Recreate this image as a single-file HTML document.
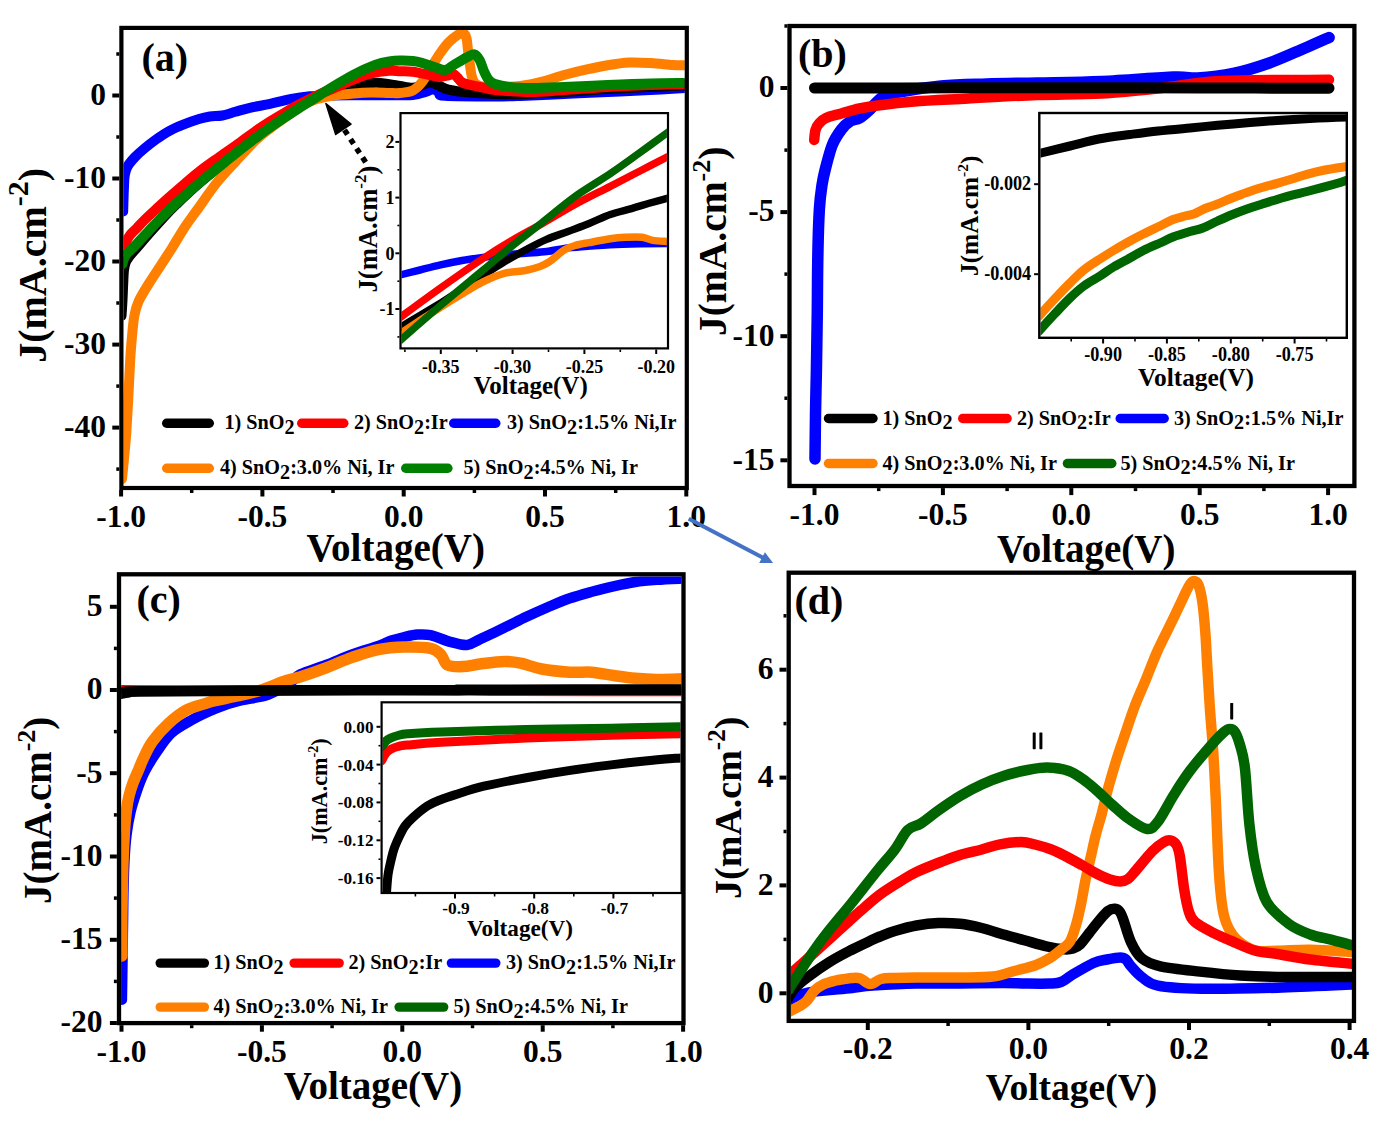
<!DOCTYPE html><html><head><meta charset="utf-8"><style>html,body{margin:0;padding:0;background:#fff;}svg{display:block;}</style></head><body>
<svg width="1379" height="1121" viewBox="0 0 1379 1121">
<rect width="1379" height="1121" fill="#fff"/>
<defs>
<clipPath id="ca"><rect x="123.5" y="30" width="561.3" height="456"/></clipPath>
<clipPath id="cai"><rect x="401.6" y="114.2" width="265.3" height="233.1"/></clipPath>
<clipPath id="cb"><rect x="791.6" y="28" width="560.8" height="455.8"/></clipPath>
<clipPath id="cbi"><rect x="1040.5" y="114.2" width="306.2" height="222.4"/></clipPath>
<clipPath id="cc"><rect x="121.1" y="576.4" width="560.4" height="444.7"/></clipPath>
<clipPath id="cci"><rect x="382.7" y="703.4" width="297.8" height="188.5"/></clipPath>
<clipPath id="cd"><rect x="790.8" y="574.8" width="561.2" height="444"/></clipPath>
</defs>
<path d="M123.2,211.5 C123.2,209.6 123.4,204.2 123.5,200.0 C123.6,195.8 123.8,190.2 124.0,186.0 C124.2,181.8 124.2,178.2 124.8,175.0 C125.4,171.8 125.9,169.4 127.5,166.5 C129.1,163.6 131.8,160.5 134.6,157.5 C137.4,154.5 140.8,151.5 144.4,148.5 C148.0,145.5 151.7,142.5 156.0,139.5 C160.3,136.5 165.2,133.2 170.0,130.6 C174.8,128.0 179.7,126.0 184.5,124.1 C189.3,122.2 194.8,120.3 199.0,119.0 C203.2,117.7 206.0,117.1 209.9,116.5 C213.8,115.9 218.0,116.3 222.2,115.5 C226.4,114.7 230.7,113.1 235.3,111.8 C239.9,110.5 244.0,109.1 249.8,107.8 C255.6,106.5 263.3,105.3 270.0,103.9 C276.7,102.5 283.3,100.5 290.0,99.2 C296.7,97.9 303.3,96.9 310.0,96.3 C316.7,95.7 323.3,95.7 330.0,95.5 C336.7,95.3 339.2,95.3 350.0,95.3 C360.8,95.2 384.5,95.2 395.0,95.2 C405.5,95.2 407.6,95.6 412.8,95.0 C418.0,94.4 422.8,92.8 426.2,91.8 C429.6,90.8 431.2,88.8 433.4,89.0 C435.6,89.2 437.7,92.0 439.6,93.1 C441.5,94.2 435.8,95.2 445.0,95.8 C454.2,96.4 482.4,96.5 495.0,96.5 C507.6,96.5 509.0,96.4 520.5,96.0 C532.0,95.6 549.5,94.7 564.0,94.0 C578.5,93.3 593.2,92.7 607.5,92.0 C621.8,91.3 636.9,90.7 650.0,90.0 C663.1,89.3 680.0,88.3 686.0,88.0" fill="none" stroke="#0000ff" stroke-width="10" stroke-linecap="round" stroke-linejoin="round" clip-path="url(#ca)"/>
<path d="M121.5,316.0 C121.7,313.3 122.2,305.7 122.5,300.0 C122.8,294.3 123.0,287.0 123.3,282.0 C123.5,277.0 123.6,273.2 124.0,270.0 C124.4,266.8 124.7,265.2 125.5,263.0 C126.3,260.8 127.1,259.5 129.0,257.0 C130.9,254.5 133.3,251.9 136.7,248.0 C140.1,244.1 145.0,238.2 149.2,233.5 C153.4,228.8 157.2,224.3 161.7,219.5 C166.2,214.7 169.8,210.7 176.2,204.5 C182.6,198.3 189.4,191.7 200.0,182.5 C210.6,173.3 228.3,158.8 240.0,149.5 C251.7,140.2 260.0,134.2 270.0,127.0 C280.0,119.8 292.2,111.4 300.0,106.5 C307.8,101.6 312.0,99.8 317.0,97.5 C322.0,95.2 325.4,93.9 330.0,92.5 C334.6,91.1 339.2,90.3 344.6,89.0 C350.0,87.7 357.2,85.6 362.4,84.6 C367.6,83.6 371.3,82.9 375.8,82.8 C380.3,82.7 385.2,83.7 389.2,84.2 C393.2,84.7 396.1,85.4 400.0,86.0 C403.9,86.6 409.2,88.0 412.8,87.8 C416.4,87.6 418.8,86.0 421.8,85.1 C424.8,84.2 427.7,82.2 430.7,82.4 C433.7,82.6 436.6,84.8 439.6,86.0 C442.6,87.2 444.0,88.5 448.5,89.6 C453.0,90.6 458.6,91.6 466.4,92.3 C474.1,93.0 486.0,93.7 495.0,94.0 C504.0,94.3 509.0,94.3 520.5,94.0 C532.0,93.7 549.5,92.8 564.0,92.0 C578.5,91.2 587.2,90.1 607.5,89.0 C627.8,87.9 672.9,86.1 686.0,85.5" fill="none" stroke="#000000" stroke-width="10" stroke-linecap="round" stroke-linejoin="round" clip-path="url(#ca)"/>
<path d="M122.0,479.0 C122.3,475.6 123.3,466.4 124.0,458.7 C124.7,451.0 125.5,443.7 126.3,432.9 C127.0,422.1 127.8,406.9 128.5,394.0 C129.2,381.1 129.8,365.9 130.5,355.2 C131.2,344.5 131.9,336.7 132.6,330.0 C133.3,323.3 133.5,319.8 134.5,315.0 C135.5,310.2 136.2,306.6 138.6,301.4 C141.0,296.1 145.2,289.4 148.9,283.5 C152.6,277.6 156.6,271.6 160.5,265.7 C164.4,259.8 168.1,254.2 172.1,247.8 C176.1,241.4 180.4,233.9 184.6,227.5 C188.8,221.1 192.0,217.0 197.4,209.5 C202.8,202.0 210.5,190.5 216.9,182.5 C223.3,174.5 229.3,168.4 235.7,161.5 C242.0,154.6 249.3,146.5 255.0,141.0 C260.7,135.5 264.2,133.0 270.0,128.5 C275.8,124.0 284.2,118.1 290.0,114.0 C295.8,109.9 300.5,106.5 305.0,104.0 C309.5,101.5 312.8,100.3 317.0,99.0 C321.2,97.7 323.9,96.9 330.0,96.0 C336.1,95.1 346.6,94.1 353.5,93.5 C360.4,92.9 365.4,92.6 371.4,92.5 C377.3,92.4 384.4,92.9 389.2,93.0 C394.0,93.1 396.1,93.4 400.0,93.0 C403.9,92.6 409.2,92.3 412.8,90.5 C416.4,88.7 418.8,86.1 421.8,82.4 C424.8,78.7 427.7,72.9 430.7,68.2 C433.7,63.5 436.6,58.3 439.6,54.0 C442.6,49.7 445.5,45.6 448.5,42.5 C451.5,39.4 455.0,36.8 457.4,35.2 C459.8,33.6 461.3,32.4 462.8,32.8 C464.3,33.2 465.5,34.7 466.4,37.8 C467.3,40.9 467.5,46.7 468.1,51.2 C468.7,55.7 469.3,60.5 469.9,64.6 C470.5,68.7 470.8,72.8 471.7,76.0 C472.6,79.2 473.2,81.7 475.3,83.5 C477.4,85.3 480.3,86.4 484.2,87.0 C488.1,87.6 492.8,87.2 498.8,87.0 C504.9,86.8 513.2,86.8 520.5,85.9 C527.8,85.0 535.0,83.4 542.3,81.6 C549.5,79.8 556.8,77.0 564.0,75.0 C571.2,73.0 578.5,71.2 585.8,69.6 C593.0,68.0 600.2,66.4 607.5,65.2 C614.8,64.0 622.0,62.9 629.3,62.5 C636.5,62.1 643.8,62.6 651.0,63.0 C658.2,63.4 667.0,64.6 672.8,65.0 C678.6,65.4 683.8,65.2 686.0,65.2" fill="none" stroke="#ff8000" stroke-width="10" stroke-linecap="round" stroke-linejoin="round" clip-path="url(#ca)"/>
<path d="M121.5,251.0 C121.9,250.0 123.1,246.8 124.0,245.0 C124.9,243.2 125.9,241.8 127.0,240.0 C128.1,238.2 128.8,236.5 130.5,234.5 C132.2,232.5 134.6,230.5 137.0,228.0 C139.4,225.5 141.4,223.0 145.0,219.5 C148.6,216.0 154.0,211.1 158.4,207.0 C162.8,202.9 167.3,198.9 171.7,195.0 C176.1,191.1 180.3,187.5 185.0,183.5 C189.7,179.5 194.3,175.4 200.0,171.0 C205.7,166.6 212.6,161.8 219.3,157.0 C226.0,152.2 234.1,146.8 240.0,142.5 C245.9,138.2 250.0,135.0 255.0,131.5 C260.0,128.0 265.0,124.7 270.0,121.5 C275.0,118.3 280.0,115.4 285.0,112.5 C290.0,109.6 294.2,107.1 300.0,104.0 C305.8,100.9 314.1,96.8 320.0,94.0 C325.9,91.2 330.1,89.9 335.7,87.5 C341.3,85.1 347.6,81.8 353.5,79.5 C359.4,77.2 365.4,75.0 371.4,73.5 C377.3,72.0 384.4,71.2 389.2,70.8 C394.0,70.4 396.1,71.0 400.0,71.2 C403.9,71.4 407.7,71.0 412.8,71.7 C417.9,72.4 426.2,74.4 430.7,75.3 C435.2,76.2 436.6,77.0 439.6,77.0 C442.6,77.0 446.3,75.8 448.5,75.3 C450.7,74.8 451.5,73.4 453.0,73.8 C454.5,74.2 455.9,76.1 457.4,77.5 C458.9,78.9 459.7,81.1 461.9,82.4 C464.1,83.7 467.1,84.2 470.8,85.1 C474.5,86.0 480.2,87.0 484.2,87.8 C488.2,88.6 487.1,89.3 495.0,90.0 C502.9,90.7 519.9,92.0 531.4,92.0 C542.9,92.0 551.3,90.8 564.0,90.0 C576.7,89.2 593.2,87.8 607.5,87.0 C621.8,86.2 636.9,85.5 650.0,85.0 C663.1,84.5 680.0,84.2 686.0,84.0" fill="none" stroke="#ff0000" stroke-width="10" stroke-linecap="round" stroke-linejoin="round" clip-path="url(#ca)"/>
<path d="M122.4,264.0 C122.7,263.0 123.3,259.9 124.2,258.0 C125.1,256.1 125.9,254.8 128.0,252.5 C130.1,250.2 133.2,247.7 136.7,244.0 C140.2,240.3 145.0,234.9 149.2,230.5 C153.4,226.1 157.2,222.0 161.7,217.5 C166.2,213.0 172.3,207.2 176.2,203.5 C180.1,199.8 181.0,199.0 185.0,195.5 C189.0,192.0 193.3,188.1 200.0,182.5 C206.7,176.9 218.3,167.4 225.0,162.0 C231.7,156.6 235.0,153.9 240.0,150.0 C245.0,146.1 250.0,142.2 255.0,138.5 C260.0,134.8 265.0,131.0 270.0,127.5 C275.0,124.0 280.0,120.6 285.0,117.3 C290.0,114.0 294.7,110.9 300.0,107.5 C305.3,104.1 312.0,100.2 317.0,97.0 C322.0,93.8 325.3,91.3 330.0,88.4 C334.7,85.5 340.0,82.3 345.0,79.5 C350.0,76.7 355.0,73.9 360.0,71.5 C365.0,69.1 370.1,66.7 375.0,65.0 C379.9,63.3 385.0,62.2 389.2,61.5 C393.4,60.8 396.1,60.6 400.0,60.5 C403.9,60.4 409.2,60.6 412.8,61.0 C416.4,61.4 418.1,61.8 421.8,62.8 C425.5,63.8 431.2,66.1 435.1,67.3 C439.0,68.5 442.0,70.3 445.0,70.0 C448.0,69.7 449.4,67.6 453.0,65.5 C456.6,63.4 462.8,59.4 466.4,57.5 C470.0,55.6 472.2,53.9 474.4,54.3 C476.6,54.7 478.1,57.2 479.7,60.1 C481.3,63.0 482.7,68.4 484.2,71.7 C485.7,75.0 486.9,77.8 488.7,79.8 C490.5,81.8 491.5,82.8 495.0,84.0 C498.5,85.2 503.5,86.3 509.6,87.0 C515.7,87.7 522.3,88.0 531.4,88.0 C540.5,88.0 551.3,87.5 564.0,87.0 C576.7,86.5 593.0,85.6 607.5,85.0 C622.0,84.4 637.9,83.8 651.0,83.5 C664.1,83.2 680.2,83.1 686.0,83.0" fill="none" stroke="#008000" stroke-width="10" stroke-linecap="round" stroke-linejoin="round" clip-path="url(#ca)"/>
<rect x="400.5" y="113.1" width="267.5" height="235.3" fill="#fff"/>
<path d="M398.0,275.5 C401.7,274.6 412.9,271.8 420.0,270.0 C427.1,268.2 433.5,266.5 440.5,264.9 C447.5,263.3 454.9,261.8 462.0,260.5 C469.1,259.2 476.0,258.3 483.0,257.4 C490.0,256.5 496.9,255.7 504.0,255.0 C511.1,254.3 518.3,253.8 525.4,253.2 C532.5,252.6 539.5,252.4 546.6,251.5 C553.7,250.6 560.7,248.8 567.9,247.9 C575.1,247.0 582.9,246.5 590.0,246.0 C597.1,245.5 602.0,245.1 610.3,244.7 C618.6,244.3 630.4,244.0 640.0,243.8 C649.6,243.6 663.3,243.6 668.0,243.6" fill="none" stroke="#0000ff" stroke-width="7.5" stroke-linecap="round" stroke-linejoin="round" clip-path="url(#cai)"/>
<path d="M398.0,328.6 C401.7,326.4 412.9,319.8 420.0,315.5 C427.1,311.2 433.5,307.4 440.5,303.1 C447.5,298.8 454.9,294.1 462.0,289.5 C469.1,284.9 476.0,280.1 483.0,275.5 C490.0,270.9 496.9,266.2 504.0,262.0 C511.1,257.8 518.3,253.8 525.4,250.0 C532.5,246.2 539.5,242.5 546.6,239.4 C553.7,236.3 560.9,234.2 568.0,231.5 C575.1,228.8 582.1,226.3 589.1,223.5 C596.1,220.7 603.2,217.0 610.3,214.5 C617.4,212.0 624.9,210.5 631.5,208.6 C638.1,206.7 643.9,204.8 650.0,203.0 C656.1,201.2 665.0,198.8 668.0,198.0" fill="none" stroke="#000000" stroke-width="7.5" stroke-linecap="round" stroke-linejoin="round" clip-path="url(#cai)"/>
<path d="M398.0,334.9 C401.7,332.5 412.9,325.1 420.0,320.5 C427.1,315.9 433.5,311.7 440.5,307.3 C447.5,302.9 454.9,298.2 462.0,294.0 C469.1,289.8 476.0,285.3 483.0,281.9 C490.0,278.5 497.1,275.3 504.2,273.4 C511.3,271.5 519.4,271.6 525.4,270.5 C531.4,269.4 536.1,267.9 540.0,266.5 C543.9,265.1 546.1,263.8 549.0,262.0 C551.9,260.2 554.5,257.6 557.2,255.5 C559.9,253.4 562.0,251.2 565.0,249.5 C568.0,247.8 571.0,246.7 575.0,245.5 C579.0,244.3 583.2,243.7 589.1,242.6 C595.0,241.5 604.3,239.7 610.3,238.8 C616.3,237.9 619.7,237.6 625.0,237.3 C630.3,237.1 637.6,236.8 642.2,237.3 C646.8,237.8 648.5,239.7 652.8,240.4 C657.1,241.1 665.5,241.3 668.0,241.5" fill="none" stroke="#ff8000" stroke-width="7.5" stroke-linecap="round" stroke-linejoin="round" clip-path="url(#cai)"/>
<path d="M398.0,319.0 C405.1,313.8 426.3,298.1 440.5,288.0 C454.7,277.9 471.1,266.4 483.0,258.5 C494.9,250.6 502.1,246.3 512.0,240.5 C521.9,234.7 531.9,229.5 542.4,223.5 C552.9,217.5 563.7,210.7 575.0,204.5 C586.3,198.3 599.5,191.9 610.3,186.3 C621.1,180.7 630.4,175.9 640.0,171.0 C649.6,166.1 663.3,159.0 668.0,156.6" fill="none" stroke="#ff0000" stroke-width="7.5" stroke-linecap="round" stroke-linejoin="round" clip-path="url(#cai)"/>
<path d="M398.0,342.4 C405.1,336.2 426.3,317.5 440.5,305.5 C454.7,293.5 471.1,280.1 483.0,270.2 C494.9,260.3 502.1,254.0 512.0,246.0 C521.9,238.0 531.9,230.7 542.4,222.4 C552.9,214.2 563.7,204.6 575.0,196.5 C586.3,188.4 599.5,180.9 610.3,173.6 C621.1,166.3 630.4,159.4 640.0,152.5 C649.6,145.6 663.3,135.6 668.0,132.2" fill="none" stroke="#006400" stroke-width="7.5" stroke-linecap="round" stroke-linejoin="round" clip-path="url(#cai)"/>
<rect x="400.5" y="113.1" width="267.5" height="235.29999999999998" fill="none" stroke="#000" stroke-width="2.2"/>
<line x1="395.4" y1="141.9" x2="399.4" y2="141.9" stroke="#000" stroke-width="2"/>
<line x1="395.4" y1="197.6" x2="399.4" y2="197.6" stroke="#000" stroke-width="2"/>
<line x1="395.4" y1="253.3" x2="399.4" y2="253.3" stroke="#000" stroke-width="2"/>
<line x1="395.4" y1="309.0" x2="399.4" y2="309.0" stroke="#000" stroke-width="2"/>
<line x1="397.4" y1="169.8" x2="399.4" y2="169.8" stroke="#000" stroke-width="1.6"/>
<line x1="397.4" y1="225.5" x2="399.4" y2="225.5" stroke="#000" stroke-width="1.6"/>
<line x1="397.4" y1="281.2" x2="399.4" y2="281.2" stroke="#000" stroke-width="1.6"/>
<line x1="397.4" y1="336.9" x2="399.4" y2="336.9" stroke="#000" stroke-width="1.6"/>
<line x1="440.8" y1="349.5" x2="440.8" y2="354.0" stroke="#000" stroke-width="2"/>
<line x1="512.6" y1="349.5" x2="512.6" y2="354.0" stroke="#000" stroke-width="2"/>
<line x1="584.4" y1="349.5" x2="584.4" y2="354.0" stroke="#000" stroke-width="2"/>
<line x1="656.2" y1="349.5" x2="656.2" y2="354.0" stroke="#000" stroke-width="2"/>
<line x1="404.9" y1="349.5" x2="404.9" y2="352.0" stroke="#000" stroke-width="1.6"/>
<line x1="476.7" y1="349.5" x2="476.7" y2="352.0" stroke="#000" stroke-width="1.6"/>
<line x1="548.5" y1="349.5" x2="548.5" y2="352.0" stroke="#000" stroke-width="1.6"/>
<line x1="620.3" y1="349.5" x2="620.3" y2="352.0" stroke="#000" stroke-width="1.6"/>
<text x="394.5" y="148.1" font-family='"Liberation Serif", serif' font-size="18" font-weight="bold" text-anchor="end">2</text>
<text x="394.5" y="203.8" font-family='"Liberation Serif", serif' font-size="18" font-weight="bold" text-anchor="end">1</text>
<text x="394.5" y="259.5" font-family='"Liberation Serif", serif' font-size="18" font-weight="bold" text-anchor="end">0</text>
<text x="394.5" y="315.2" font-family='"Liberation Serif", serif' font-size="18" font-weight="bold" text-anchor="end">-1</text>
<text x="440.8" y="372.5" font-family='"Liberation Serif", serif' font-size="18" font-weight="bold" text-anchor="middle">-0.35</text>
<text x="512.6" y="372.5" font-family='"Liberation Serif", serif' font-size="18" font-weight="bold" text-anchor="middle">-0.30</text>
<text x="584.4" y="372.5" font-family='"Liberation Serif", serif' font-size="18" font-weight="bold" text-anchor="middle">-0.25</text>
<text x="656.2" y="372.5" font-family='"Liberation Serif", serif' font-size="18" font-weight="bold" text-anchor="middle">-0.20</text>
<text x="530.6" y="394" font-family='"Liberation Serif", serif' font-size="25" font-weight="bold" text-anchor="middle">Voltage(V)</text>
<text transform="translate(376.7,229) rotate(-90)" font-family='"Liberation Serif", serif' font-size="26.5" font-weight="bold" text-anchor="middle">J(mA.cm<tspan font-size="17.0" dy="-10.4">-2</tspan><tspan dy="10.4">)</tspan></text>
<polygon points="325.9,103.6 335.7,134.5 351,124.2" fill="#000" stroke="#000" stroke-width="1.5" stroke-linejoin="round"/>
<line x1="344.5" y1="130" x2="367.5" y2="165" stroke="#000" stroke-width="5.5" stroke-dasharray="5.5,5.5"/>
<rect x="121.4" y="27.9" width="565.4" height="460.1" fill="none" stroke="#000" stroke-width="4.2"/>
<line x1="112.3" y1="95.5" x2="119.3" y2="95.5" stroke="#000" stroke-width="4"/>
<line x1="112.3" y1="178.5" x2="119.3" y2="178.5" stroke="#000" stroke-width="4"/>
<line x1="112.3" y1="261.5" x2="119.3" y2="261.5" stroke="#000" stroke-width="4"/>
<line x1="112.3" y1="344.6" x2="119.3" y2="344.6" stroke="#000" stroke-width="4"/>
<line x1="112.3" y1="427.6" x2="119.3" y2="427.6" stroke="#000" stroke-width="4"/>
<line x1="116.3" y1="54.0" x2="119.3" y2="54.0" stroke="#000" stroke-width="3.5"/>
<line x1="116.3" y1="137.0" x2="119.3" y2="137.0" stroke="#000" stroke-width="3.5"/>
<line x1="116.3" y1="220.0" x2="119.3" y2="220.0" stroke="#000" stroke-width="3.5"/>
<line x1="116.3" y1="303.0" x2="119.3" y2="303.0" stroke="#000" stroke-width="3.5"/>
<line x1="116.3" y1="386.1" x2="119.3" y2="386.1" stroke="#000" stroke-width="3.5"/>
<line x1="116.3" y1="469.1" x2="119.3" y2="469.1" stroke="#000" stroke-width="3.5"/>
<line x1="121.1" y1="490" x2="121.1" y2="496.5" stroke="#000" stroke-width="4"/>
<line x1="262.4" y1="490" x2="262.4" y2="496.5" stroke="#000" stroke-width="4"/>
<line x1="403.7" y1="490" x2="403.7" y2="496.5" stroke="#000" stroke-width="4"/>
<line x1="545.0" y1="490" x2="545.0" y2="496.5" stroke="#000" stroke-width="4"/>
<line x1="686.3" y1="490" x2="686.3" y2="496.5" stroke="#000" stroke-width="4"/>
<line x1="191.7" y1="490" x2="191.7" y2="493" stroke="#000" stroke-width="3.5"/>
<line x1="333.0" y1="490" x2="333.0" y2="493" stroke="#000" stroke-width="3.5"/>
<line x1="474.4" y1="490" x2="474.4" y2="493" stroke="#000" stroke-width="3.5"/>
<line x1="615.7" y1="490" x2="615.7" y2="493" stroke="#000" stroke-width="3.5"/>
<text x="106" y="104.8" font-family='"Liberation Serif", serif' font-size="31.5" font-weight="bold" text-anchor="end">0</text>
<text x="106" y="187.8" font-family='"Liberation Serif", serif' font-size="31.5" font-weight="bold" text-anchor="end">-10</text>
<text x="106" y="270.8" font-family='"Liberation Serif", serif' font-size="31.5" font-weight="bold" text-anchor="end">-20</text>
<text x="106" y="353.9" font-family='"Liberation Serif", serif' font-size="31.5" font-weight="bold" text-anchor="end">-30</text>
<text x="106" y="436.9" font-family='"Liberation Serif", serif' font-size="31.5" font-weight="bold" text-anchor="end">-40</text>
<text x="121.1" y="526.8" font-family='"Liberation Serif", serif' font-size="31.5" font-weight="bold" text-anchor="middle">-1.0</text>
<text x="262.4" y="526.8" font-family='"Liberation Serif", serif' font-size="31.5" font-weight="bold" text-anchor="middle">-0.5</text>
<text x="403.7" y="526.8" font-family='"Liberation Serif", serif' font-size="31.5" font-weight="bold" text-anchor="middle">0.0</text>
<text x="545.0" y="526.8" font-family='"Liberation Serif", serif' font-size="31.5" font-weight="bold" text-anchor="middle">0.5</text>
<text x="686.3" y="526.8" font-family='"Liberation Serif", serif' font-size="31.5" font-weight="bold" text-anchor="middle">1.0</text>
<text x="395.7" y="561.4" font-family='"Liberation Serif", serif' font-size="39" font-weight="bold" text-anchor="middle">Voltage(V)</text>
<text transform="translate(45.5,265.3) rotate(-90)" font-family='"Liberation Serif", serif' font-size="40" font-weight="bold" text-anchor="middle">J(mA.cm<tspan font-size="30.0" dy="-18.0">-2</tspan><tspan dy="18.0">)</tspan></text>
<text x="141.5" y="71.3" font-family='"Liberation Serif", serif' font-size="40" font-weight="bold" text-anchor="start">(a)</text>
<line x1="166.7" y1="423.3" x2="209.3" y2="423.3" stroke="#000000" stroke-width="9.4" stroke-linecap="round"/>
<line x1="301.7" y1="423.3" x2="343.8" y2="423.3" stroke="#ff0000" stroke-width="9.4" stroke-linecap="round"/>
<line x1="453.7" y1="423.3" x2="495.8" y2="423.3" stroke="#0000ff" stroke-width="9.4" stroke-linecap="round"/>
<line x1="166.7" y1="468.2" x2="209.3" y2="468.2" stroke="#ff8000" stroke-width="9.4" stroke-linecap="round"/>
<line x1="405.7" y1="468.2" x2="447.90000000000003" y2="468.2" stroke="#008000" stroke-width="9.4" stroke-linecap="round"/>
<text x="224.5" y="429.4" font-family='"Liberation Serif", serif' font-size="20.2" font-weight="bold">1) SnO<tspan dy="4.8">2</tspan><tspan dy="-4.8"></tspan></text>
<text x="354" y="429.4" font-family='"Liberation Serif", serif' font-size="20.2" font-weight="bold">2) SnO<tspan dy="4.8">2</tspan><tspan dy="-4.8">:Ir</tspan></text>
<text x="507" y="429.4" font-family='"Liberation Serif", serif' font-size="20.2" font-weight="bold">3) SnO<tspan dy="4.8">2</tspan><tspan dy="-4.8">:1.5% Ni,Ir</tspan></text>
<text x="220" y="474.4" font-family='"Liberation Serif", serif' font-size="20.2" font-weight="bold">4) SnO<tspan dy="4.8">2</tspan><tspan dy="-4.8">:3.0% Ni, Ir</tspan></text>
<text x="463.5" y="474.4" font-family='"Liberation Serif", serif' font-size="20.2" font-weight="bold">5) SnO<tspan dy="4.8">2</tspan><tspan dy="-4.8">:4.5% Ni, Ir</tspan></text>
<path d="M815.0,459.0 C815.1,451.6 815.3,429.4 815.5,414.7 C815.7,400.0 816.1,387.8 816.4,370.6 C816.7,353.5 817.0,331.4 817.3,311.8 C817.5,292.2 817.5,270.2 817.9,253.0 C818.2,235.8 818.7,220.1 819.4,208.8 C820.1,197.5 821.0,191.5 822.0,185.0 C823.0,178.5 823.4,176.7 825.1,170.0 C826.8,163.3 829.6,151.8 832.3,145.0 C835.0,138.2 838.4,133.5 841.4,129.5 C844.4,125.5 847.5,122.9 850.5,121.0 C853.5,119.1 856.5,119.7 859.5,118.0 C862.5,116.3 865.0,114.1 868.6,110.8 C872.2,107.5 876.8,101.1 881.3,98.1 C885.8,95.0 885.8,94.5 895.8,92.5 C905.8,90.5 926.0,87.4 941.1,86.0 C956.2,84.6 970.4,84.5 986.4,84.0 C1002.4,83.5 1017.8,83.4 1037.0,83.0 C1056.2,82.6 1079.0,82.5 1101.8,81.5 C1124.6,80.5 1157.6,77.6 1173.6,77.0 C1189.5,76.4 1187.5,78.6 1197.5,78.0 C1207.5,77.4 1221.4,76.0 1233.4,73.5 C1245.4,71.0 1257.3,67.2 1269.3,63.0 C1281.3,58.8 1295.2,52.2 1305.2,48.0 C1315.2,43.8 1325.1,39.2 1329.1,37.5" fill="none" stroke="#0000ff" stroke-width="11.5" stroke-linecap="round" stroke-linejoin="round" clip-path="url(#cb)"/>
<path d="M814.2,140.0 C814.4,138.3 814.7,132.8 815.5,130.0 C816.3,127.2 817.2,125.5 819.0,123.5 C820.8,121.5 822.3,119.7 826.0,118.0 C829.7,116.3 835.8,115.1 841.4,113.5 C847.0,111.9 853.5,109.8 859.5,108.5 C865.5,107.2 868.5,106.7 877.6,105.5 C886.7,104.3 898.8,102.7 913.9,101.5 C929.0,100.3 947.8,99.6 968.3,98.5 C988.8,97.4 1014.8,95.8 1037.0,95.0 C1059.2,94.2 1081.0,94.6 1101.8,93.4 C1122.6,92.2 1141.7,90.1 1161.6,88.0 C1181.5,85.9 1193.5,82.4 1221.4,81.0 C1249.3,79.6 1311.1,80.0 1329.0,79.8" fill="none" stroke="#ff0000" stroke-width="10.5" stroke-linecap="round" stroke-linejoin="round" clip-path="url(#cb)"/>
<path d="M814.5,88.0 C828.8,88.0 869.1,88.0 900.0,88.0 C930.9,88.0 966.7,87.8 1000.0,87.8 C1033.3,87.8 1066.7,87.8 1100.0,87.8 C1133.3,87.8 1161.8,87.9 1200.0,88.0 C1238.2,88.1 1307.5,88.2 1329.0,88.2" fill="none" stroke="#000000" stroke-width="11" stroke-linecap="round" stroke-linejoin="round" clip-path="url(#cb)"/>
<rect x="1039.3" y="113" width="307.5" height="224.8" fill="#fff"/>
<path d="M1039.0,153.5 C1044.2,152.2 1060.0,148.4 1070.0,146.0 C1080.0,143.6 1088.7,140.9 1098.7,139.0 C1108.7,137.1 1120.1,135.8 1130.0,134.5 C1139.9,133.2 1148.1,132.1 1158.1,131.0 C1168.1,129.9 1180.1,128.9 1190.0,128.0 C1199.9,127.0 1207.6,126.2 1217.6,125.3 C1227.6,124.4 1240.1,123.3 1250.0,122.5 C1259.9,121.7 1267.1,121.2 1277.1,120.5 C1287.1,119.8 1298.3,119.1 1310.0,118.5 C1321.7,117.9 1340.8,117.2 1347.0,117.0" fill="none" stroke="#000000" stroke-width="9" stroke-linecap="round" stroke-linejoin="round" clip-path="url(#cbi)"/>
<path d="M1039.0,316.0 C1041.5,313.2 1048.9,305.0 1054.1,299.5 C1059.3,294.0 1065.0,287.9 1070.0,283.0 C1075.0,278.1 1078.8,274.0 1083.8,270.0 C1088.8,266.0 1095.0,262.2 1100.0,259.0 C1105.0,255.8 1108.5,253.5 1113.5,250.5 C1118.5,247.5 1125.0,243.8 1130.0,241.0 C1135.0,238.2 1138.3,236.5 1143.3,234.0 C1148.3,231.5 1155.0,228.4 1160.0,226.0 C1165.0,223.6 1168.8,221.2 1173.0,219.5 C1177.2,217.8 1181.5,216.9 1185.0,216.0 C1188.5,215.1 1190.5,215.2 1193.8,214.0 C1197.1,212.8 1201.0,210.2 1205.0,208.5 C1209.0,206.8 1213.1,205.8 1217.6,204.0 C1222.1,202.2 1227.0,200.0 1232.0,198.0 C1237.0,196.0 1242.4,193.9 1247.4,192.2 C1252.4,190.4 1257.0,189.0 1262.0,187.5 C1267.0,186.0 1272.1,184.7 1277.1,183.3 C1282.1,181.9 1287.0,180.5 1292.0,179.0 C1297.0,177.5 1301.3,175.8 1306.8,174.3 C1312.3,172.8 1318.3,171.3 1325.0,170.0 C1331.7,168.7 1343.3,167.1 1347.0,166.5" fill="none" stroke="#ff8000" stroke-width="9" stroke-linecap="round" stroke-linejoin="round" clip-path="url(#cbi)"/>
<path d="M1039.0,331.0 C1041.5,328.2 1048.9,320.0 1054.1,314.5 C1059.3,309.0 1065.0,302.8 1070.0,298.0 C1075.0,293.2 1078.8,289.7 1083.8,286.0 C1088.8,282.3 1095.0,279.2 1100.0,276.0 C1105.0,272.8 1108.5,270.0 1113.5,267.0 C1118.5,264.0 1125.0,260.8 1130.0,258.0 C1135.0,255.2 1138.3,253.0 1143.3,250.5 C1148.3,248.0 1155.0,245.2 1160.0,243.0 C1165.0,240.8 1168.0,238.9 1173.0,237.0 C1178.0,235.1 1185.0,233.0 1190.0,231.5 C1195.0,230.0 1198.2,229.8 1202.8,228.0 C1207.4,226.2 1212.6,223.2 1217.6,221.0 C1222.5,218.8 1227.6,216.5 1232.5,214.5 C1237.4,212.5 1242.0,210.8 1247.0,209.0 C1252.0,207.2 1257.2,205.6 1262.2,204.0 C1267.2,202.4 1272.0,201.0 1277.0,199.5 C1282.0,198.0 1287.0,196.5 1292.0,195.2 C1297.0,193.9 1302.0,192.8 1307.0,191.5 C1312.0,190.2 1317.0,188.9 1321.7,187.7 C1326.4,186.4 1330.8,185.2 1335.0,184.0 C1339.2,182.8 1345.0,180.9 1347.0,180.3" fill="none" stroke="#006400" stroke-width="9" stroke-linecap="round" stroke-linejoin="round" clip-path="url(#cbi)"/>
<rect x="1039.3" y="113" width="307.5" height="224.8" fill="none" stroke="#000" stroke-width="2.4"/>
<line x1="1034.1" y1="184.2" x2="1038.1" y2="184.2" stroke="#000" stroke-width="2"/>
<line x1="1034.1" y1="274.2" x2="1038.1" y2="274.2" stroke="#000" stroke-width="2"/>
<line x1="1103.1" y1="339" x2="1103.1" y2="343.5" stroke="#000" stroke-width="2"/>
<line x1="1166.9" y1="339" x2="1166.9" y2="343.5" stroke="#000" stroke-width="2"/>
<line x1="1230.8" y1="339" x2="1230.8" y2="343.5" stroke="#000" stroke-width="2"/>
<line x1="1294.6" y1="339" x2="1294.6" y2="343.5" stroke="#000" stroke-width="2"/>
<line x1="1071.2" y1="339" x2="1071.2" y2="341.5" stroke="#000" stroke-width="1.6"/>
<line x1="1135.0" y1="339" x2="1135.0" y2="341.5" stroke="#000" stroke-width="1.6"/>
<line x1="1198.8" y1="339" x2="1198.8" y2="341.5" stroke="#000" stroke-width="1.6"/>
<line x1="1262.7" y1="339" x2="1262.7" y2="341.5" stroke="#000" stroke-width="1.6"/>
<line x1="1326.5" y1="339" x2="1326.5" y2="341.5" stroke="#000" stroke-width="1.6"/>
<text transform="translate(1031.2,190.4) scale(1,1.12)" x="0" y="0" font-family='"Liberation Serif", serif' font-size="18.2" font-weight="bold" text-anchor="end">-0.002</text>
<text transform="translate(1031.2,280.4) scale(1,1.12)" x="0" y="0" font-family='"Liberation Serif", serif' font-size="18.2" font-weight="bold" text-anchor="end">-0.004</text>
<text transform="translate(1103.1,361.4) scale(1,1.12)" x="0" y="0" font-family='"Liberation Serif", serif' font-size="18.2" font-weight="bold" text-anchor="middle">-0.90</text>
<text transform="translate(1166.9,361.4) scale(1,1.12)" x="0" y="0" font-family='"Liberation Serif", serif' font-size="18.2" font-weight="bold" text-anchor="middle">-0.85</text>
<text transform="translate(1230.8,361.4) scale(1,1.12)" x="0" y="0" font-family='"Liberation Serif", serif' font-size="18.2" font-weight="bold" text-anchor="middle">-0.80</text>
<text transform="translate(1294.6,361.4) scale(1,1.12)" x="0" y="0" font-family='"Liberation Serif", serif' font-size="18.2" font-weight="bold" text-anchor="middle">-0.75</text>
<text x="1196" y="385.5" font-family='"Liberation Serif", serif' font-size="25.4" font-weight="bold" text-anchor="middle">Voltage(V)</text>
<text transform="translate(978,215.8) rotate(-90)" font-family='"Liberation Serif", serif' font-size="25.3" font-weight="bold" text-anchor="middle">J(mA.cm<tspan font-size="15.5" dy="-9.8">-2</tspan><tspan dy="9.8">)</tspan></text>
<rect x="789.5" y="26" width="564.9000000000001" height="460" fill="none" stroke="#000" stroke-width="4.3"/>
<line x1="780.4" y1="88.0" x2="787.4" y2="88.0" stroke="#000" stroke-width="4"/>
<line x1="780.4" y1="212.1" x2="787.4" y2="212.1" stroke="#000" stroke-width="4"/>
<line x1="780.4" y1="336.2" x2="787.4" y2="336.2" stroke="#000" stroke-width="4"/>
<line x1="780.4" y1="460.3" x2="787.4" y2="460.3" stroke="#000" stroke-width="4"/>
<line x1="784.4" y1="26.0" x2="787.4" y2="26.0" stroke="#000" stroke-width="3.5"/>
<line x1="784.4" y1="150.1" x2="787.4" y2="150.1" stroke="#000" stroke-width="3.5"/>
<line x1="784.4" y1="274.1" x2="787.4" y2="274.1" stroke="#000" stroke-width="3.5"/>
<line x1="784.4" y1="398.2" x2="787.4" y2="398.2" stroke="#000" stroke-width="3.5"/>
<line x1="814.5" y1="488.1" x2="814.5" y2="495.1" stroke="#000" stroke-width="4"/>
<line x1="942.9" y1="488.1" x2="942.9" y2="495.1" stroke="#000" stroke-width="4"/>
<line x1="1071.3" y1="488.1" x2="1071.3" y2="495.1" stroke="#000" stroke-width="4"/>
<line x1="1199.7" y1="488.1" x2="1199.7" y2="495.1" stroke="#000" stroke-width="4"/>
<line x1="1328.1" y1="488.1" x2="1328.1" y2="495.1" stroke="#000" stroke-width="4"/>
<line x1="878.7" y1="488.1" x2="878.7" y2="491.1" stroke="#000" stroke-width="3.5"/>
<line x1="1007.1" y1="488.1" x2="1007.1" y2="491.1" stroke="#000" stroke-width="3.5"/>
<line x1="1135.5" y1="488.1" x2="1135.5" y2="491.1" stroke="#000" stroke-width="3.5"/>
<line x1="1263.9" y1="488.1" x2="1263.9" y2="491.1" stroke="#000" stroke-width="3.5"/>
<text x="774.5" y="97.3" font-family='"Liberation Serif", serif' font-size="31.5" font-weight="bold" text-anchor="end">0</text>
<text x="774.5" y="221.4" font-family='"Liberation Serif", serif' font-size="31.5" font-weight="bold" text-anchor="end">-5</text>
<text x="774.5" y="345.5" font-family='"Liberation Serif", serif' font-size="31.5" font-weight="bold" text-anchor="end">-10</text>
<text x="774.5" y="469.6" font-family='"Liberation Serif", serif' font-size="31.5" font-weight="bold" text-anchor="end">-15</text>
<text x="814.5" y="525" font-family='"Liberation Serif", serif' font-size="31.5" font-weight="bold" text-anchor="middle">-1.0</text>
<text x="942.9" y="525" font-family='"Liberation Serif", serif' font-size="31.5" font-weight="bold" text-anchor="middle">-0.5</text>
<text x="1071.3" y="525" font-family='"Liberation Serif", serif' font-size="31.5" font-weight="bold" text-anchor="middle">0.0</text>
<text x="1199.7" y="525" font-family='"Liberation Serif", serif' font-size="31.5" font-weight="bold" text-anchor="middle">0.5</text>
<text x="1328.1" y="525" font-family='"Liberation Serif", serif' font-size="31.5" font-weight="bold" text-anchor="middle">1.0</text>
<text x="1086.3" y="562" font-family='"Liberation Serif", serif' font-size="39" font-weight="bold" text-anchor="middle">Voltage(V)</text>
<text transform="translate(726.3,241.3) rotate(-90)" font-family='"Liberation Serif", serif' font-size="39.5" font-weight="bold" text-anchor="middle">J(mA.cm<tspan font-size="26.0" dy="-16.4">-2</tspan><tspan dy="16.4">)</tspan></text>
<text x="798" y="67.3" font-family='"Liberation Serif", serif' font-size="40" font-weight="bold" text-anchor="start">(b)</text>
<line x1="828.5" y1="418.5" x2="873.0" y2="418.5" stroke="#000000" stroke-width="9.4" stroke-linecap="round"/>
<line x1="962.7" y1="418.5" x2="1007.0999999999999" y2="418.5" stroke="#ff0000" stroke-width="9.4" stroke-linecap="round"/>
<line x1="1120.2" y1="418.5" x2="1164.2" y2="418.5" stroke="#0000ff" stroke-width="9.4" stroke-linecap="round"/>
<line x1="828.5" y1="463.5" x2="873.0" y2="463.5" stroke="#ff8000" stroke-width="9.4" stroke-linecap="round"/>
<line x1="1067.4" y1="463.5" x2="1111.8" y2="463.5" stroke="#006400" stroke-width="9.4" stroke-linecap="round"/>
<text x="882.5" y="424.6" font-family='"Liberation Serif", serif' font-size="20.2" font-weight="bold">1) SnO<tspan dy="4.8">2</tspan><tspan dy="-4.8"></tspan></text>
<text x="1017" y="424.6" font-family='"Liberation Serif", serif' font-size="20.2" font-weight="bold">2) SnO<tspan dy="4.8">2</tspan><tspan dy="-4.8">:Ir</tspan></text>
<text x="1174" y="424.6" font-family='"Liberation Serif", serif' font-size="20.2" font-weight="bold">3) SnO<tspan dy="4.8">2</tspan><tspan dy="-4.8">:1.5% Ni,Ir</tspan></text>
<text x="882.5" y="469.6" font-family='"Liberation Serif", serif' font-size="20.2" font-weight="bold">4) SnO<tspan dy="4.8">2</tspan><tspan dy="-4.8">:3.0% Ni, Ir</tspan></text>
<text x="1120.5" y="469.6" font-family='"Liberation Serif", serif' font-size="20.2" font-weight="bold">5) SnO<tspan dy="4.8">2</tspan><tspan dy="-4.8">:4.5% Ni, Ir</tspan></text>
<path d="M119.0,689.5 C132.5,689.6 169.8,689.9 200.0,690.0 C230.2,690.1 266.7,690.1 300.0,690.2 C333.3,690.3 373.5,690.4 400.0,690.5 C426.5,690.6 439.0,690.8 459.0,691.0 C479.0,691.2 482.7,691.5 520.0,691.6 C557.3,691.7 655.8,691.8 683.0,691.8" fill="none" stroke="#ff0000" stroke-width="9" stroke-linecap="round" stroke-linejoin="round" clip-path="url(#cc)"/>
<path d="M121.9,999.8 C122.0,993.3 122.3,973.3 122.5,960.8 C122.7,948.3 122.8,936.8 123.0,925.0 C123.2,913.2 123.2,900.8 123.5,890.0 C123.8,879.2 124.0,869.2 124.5,860.0 C125.0,850.8 125.5,843.0 126.5,835.0 C127.5,827.0 128.8,819.2 130.5,812.0 C132.2,804.8 134.2,798.7 136.5,792.0 C138.8,785.3 141.1,778.8 144.5,772.0 C147.9,765.2 152.5,758.0 157.0,751.5 C161.5,745.0 165.9,738.2 171.5,733.0 C177.1,727.8 184.6,724.1 190.8,720.5 C197.0,716.9 203.0,714.1 208.7,711.5 C214.4,708.9 219.5,706.9 225.0,705.0 C230.5,703.1 234.6,702.0 241.8,700.2 C249.1,698.5 260.5,697.4 268.5,694.5 C276.5,691.6 284.8,686.3 290.0,683.0 C295.2,679.7 294.0,677.5 300.0,674.5 C306.0,671.5 317.4,668.3 326.1,665.0 C334.8,661.7 343.5,657.7 352.2,654.5 C360.9,651.3 371.8,648.3 378.3,646.0 C384.8,643.7 387.0,642.0 391.4,640.5 C395.8,639.0 400.0,638.0 404.4,637.0 C408.8,636.0 413.1,634.9 417.5,634.6 C421.9,634.3 425.1,634.0 430.5,635.2 C435.9,636.4 444.0,640.2 450.1,641.8 C456.2,643.4 462.1,645.4 467.1,645.0 C472.1,644.6 473.8,642.1 480.0,639.2 C486.2,636.3 496.9,631.3 504.6,627.6 C512.3,623.9 519.1,620.2 526.4,616.8 C533.7,613.4 541.0,610.1 548.2,607.0 C555.5,603.9 562.6,600.8 569.9,598.3 C577.1,595.8 584.5,593.8 591.7,591.8 C599.0,589.8 606.1,587.9 613.4,586.3 C620.6,584.7 628.0,583.1 635.2,582.0 C642.5,580.9 648.9,580.4 656.9,579.8 C664.9,579.2 678.6,578.7 683.0,578.5" fill="none" stroke="#0000ff" stroke-width="10.5" stroke-linecap="round" stroke-linejoin="round" clip-path="url(#cc)"/>
<path d="M121.9,956.0 C121.9,949.0 121.8,928.8 121.9,914.0 C122.1,899.2 122.4,881.0 122.8,867.0 C123.2,853.0 123.9,839.5 124.5,830.0 C125.1,820.5 125.8,815.7 126.5,810.0 C127.2,804.3 127.9,800.5 129.0,796.0 C130.1,791.5 131.4,787.3 133.0,783.0 C134.6,778.7 136.8,774.0 138.5,770.0 C140.2,766.0 140.7,764.0 143.0,759.2 C145.3,754.4 148.2,747.4 152.5,741.4 C156.8,735.4 162.8,728.7 168.5,723.5 C174.2,718.3 180.5,713.4 186.4,710.1 C192.3,706.8 199.4,705.5 204.2,703.9 C209.0,702.3 209.5,702.0 215.0,700.7 C220.5,699.4 229.6,697.7 237.0,696.0 C244.4,694.3 251.4,693.0 259.6,690.4 C267.8,687.8 279.7,682.7 286.4,680.5 C293.1,678.3 293.4,679.1 300.0,677.0 C306.6,674.9 317.4,671.2 326.1,667.9 C334.8,664.6 343.5,660.4 352.2,657.4 C360.9,654.4 369.6,651.3 378.3,649.6 C387.0,647.9 395.7,647.2 404.4,647.0 C413.1,646.8 424.4,647.0 430.5,648.3 C436.6,649.6 438.2,652.0 441.0,654.8 C443.8,657.6 443.8,663.0 447.5,665.0 C451.2,667.0 457.8,666.8 463.2,666.6 C468.6,666.4 473.1,664.9 480.0,664.0 C486.9,663.1 497.6,661.5 504.6,661.4 C511.6,661.3 515.8,662.2 522.0,663.5 C528.2,664.8 533.6,667.5 541.6,669.0 C549.6,670.5 561.5,671.7 569.9,672.2 C578.2,672.7 584.5,671.7 591.7,672.2 C599.0,672.8 606.1,674.5 613.4,675.5 C620.6,676.5 628.0,677.6 635.2,678.3 C642.5,678.9 648.9,679.3 656.9,679.4 C664.9,679.5 678.6,678.9 683.0,678.8" fill="none" stroke="#ff8000" stroke-width="11.5" stroke-linecap="round" stroke-linejoin="round" clip-path="url(#cc)"/>
<path d="M119.5,694.0 C120.9,693.8 124.6,692.9 128.0,692.5 C131.4,692.1 111.3,691.8 140.0,691.4 C168.7,691.0 246.8,690.6 300.0,690.4 C353.2,690.2 430.7,690.2 459.0,690.1 C487.3,690.0 432.7,689.9 470.0,689.8 C507.3,689.7 647.5,689.6 683.0,689.6" fill="none" stroke="#000000" stroke-width="10.6" stroke-linecap="round" stroke-linejoin="round" clip-path="url(#cc)"/>
<rect x="381.6" y="702.3" width="300" height="190.7" fill="#fff"/>
<path d="M386.3,895.0 C386.6,891.7 387.3,880.4 388.0,875.0 C388.7,869.6 389.5,866.8 390.5,862.5 C391.5,858.2 392.6,853.2 394.0,849.0 C395.4,844.8 397.2,840.9 399.0,837.1 C400.8,833.3 402.6,829.3 405.0,826.0 C407.4,822.7 409.4,820.6 413.1,817.3 C416.8,814.0 422.8,808.9 427.3,806.0 C431.8,803.1 435.3,801.9 440.0,800.0 C444.7,798.1 448.2,796.9 455.5,794.6 C462.8,792.3 472.0,789.0 483.8,786.2 C495.6,783.4 512.1,780.3 526.2,777.7 C540.4,775.1 554.6,772.7 568.7,770.6 C582.9,768.5 598.4,766.5 611.1,764.9 C623.8,763.3 633.4,762.2 645.0,761.0 C656.6,759.8 675.0,758.4 681.0,757.9" fill="none" stroke="#000000" stroke-width="9" stroke-linecap="round" stroke-linejoin="round" clip-path="url(#cci)"/>
<path d="M381.4,761.0 C382.2,759.7 384.5,754.9 386.0,753.0 C387.5,751.1 388.5,750.5 390.5,749.4 C392.5,748.3 395.2,747.2 398.0,746.5 C400.8,745.8 400.3,745.8 407.5,745.1 C414.7,744.4 421.6,743.5 441.4,742.3 C461.2,741.1 497.9,739.3 526.2,738.1 C554.5,736.9 585.3,735.9 611.1,735.2 C636.9,734.5 669.4,734.0 681.0,733.8" fill="none" stroke="#ff0000" stroke-width="9" stroke-linecap="round" stroke-linejoin="round" clip-path="url(#cci)"/>
<path d="M381.4,747.0 C382.2,746.0 384.5,742.5 386.0,741.0 C387.5,739.5 388.5,739.0 390.5,738.1 C392.5,737.2 395.2,736.2 398.0,735.5 C400.8,734.8 400.3,734.4 407.5,733.8 C414.7,733.2 421.6,732.6 441.4,731.9 C461.2,731.2 497.9,730.2 526.2,729.6 C554.5,729.0 585.3,728.7 611.1,728.2 C636.9,727.7 669.4,727.0 681.0,726.8" fill="none" stroke="#006400" stroke-width="9" stroke-linecap="round" stroke-linejoin="round" clip-path="url(#cci)"/>
<rect x="381.6" y="702.3" width="300.0" height="190.70000000000005" fill="none" stroke="#000" stroke-width="2.2"/>
<line x1="376.5" y1="726.8" x2="380.5" y2="726.8" stroke="#000" stroke-width="2"/>
<line x1="376.5" y1="764.6" x2="380.5" y2="764.6" stroke="#000" stroke-width="2"/>
<line x1="376.5" y1="802.4" x2="380.5" y2="802.4" stroke="#000" stroke-width="2"/>
<line x1="376.5" y1="840.3" x2="380.5" y2="840.3" stroke="#000" stroke-width="2"/>
<line x1="376.5" y1="878.1" x2="380.5" y2="878.1" stroke="#000" stroke-width="2"/>
<line x1="378.5" y1="745.7" x2="380.5" y2="745.7" stroke="#000" stroke-width="1.6"/>
<line x1="378.5" y1="783.5" x2="380.5" y2="783.5" stroke="#000" stroke-width="1.6"/>
<line x1="378.5" y1="821.3" x2="380.5" y2="821.3" stroke="#000" stroke-width="1.6"/>
<line x1="378.5" y1="859.2" x2="380.5" y2="859.2" stroke="#000" stroke-width="1.6"/>
<line x1="455.0" y1="894" x2="455.0" y2="898.5" stroke="#000" stroke-width="2"/>
<line x1="534.2" y1="894" x2="534.2" y2="898.5" stroke="#000" stroke-width="2"/>
<line x1="613.4" y1="894" x2="613.4" y2="898.5" stroke="#000" stroke-width="2"/>
<line x1="415.4" y1="894" x2="415.4" y2="896.5" stroke="#000" stroke-width="1.6"/>
<line x1="494.6" y1="894" x2="494.6" y2="896.5" stroke="#000" stroke-width="1.6"/>
<line x1="573.8" y1="894" x2="573.8" y2="896.5" stroke="#000" stroke-width="1.6"/>
<line x1="653.0" y1="894" x2="653.0" y2="896.5" stroke="#000" stroke-width="1.6"/>
<text x="373.5" y="732.7" font-family='"Liberation Serif", serif' font-size="17.2" font-weight="bold" text-anchor="end">0.00</text>
<text x="373.5" y="770.5" font-family='"Liberation Serif", serif' font-size="17.2" font-weight="bold" text-anchor="end">-0.04</text>
<text x="373.5" y="808.3" font-family='"Liberation Serif", serif' font-size="17.2" font-weight="bold" text-anchor="end">-0.08</text>
<text x="373.5" y="846.2" font-family='"Liberation Serif", serif' font-size="17.2" font-weight="bold" text-anchor="end">-0.12</text>
<text x="373.5" y="884.0" font-family='"Liberation Serif", serif' font-size="17.2" font-weight="bold" text-anchor="end">-0.16</text>
<text x="456.0" y="913.6" font-family='"Liberation Serif", serif' font-size="17.4" font-weight="bold" text-anchor="middle">-0.9</text>
<text x="535.2" y="913.6" font-family='"Liberation Serif", serif' font-size="17.4" font-weight="bold" text-anchor="middle">-0.8</text>
<text x="614.4" y="913.6" font-family='"Liberation Serif", serif' font-size="17.4" font-weight="bold" text-anchor="middle">-0.7</text>
<text x="520" y="935.5" font-family='"Liberation Serif", serif' font-size="23.2" font-weight="bold" text-anchor="middle">Voltage(V)</text>
<text transform="translate(326.8,791.3) rotate(-90)" font-family='"Liberation Serif", serif' font-size="22.2" font-weight="bold" text-anchor="middle">J(mA.cm<tspan font-size="14.2" dy="-9.1">-2</tspan><tspan dy="9.1">)</tspan></text>
<rect x="119" y="574.3" width="564.5" height="448.80000000000007" fill="none" stroke="#000" stroke-width="4.3"/>
<line x1="109.9" y1="606.8" x2="116.9" y2="606.8" stroke="#000" stroke-width="4"/>
<line x1="109.9" y1="690.0" x2="116.9" y2="690.0" stroke="#000" stroke-width="4"/>
<line x1="109.9" y1="773.2" x2="116.9" y2="773.2" stroke="#000" stroke-width="4"/>
<line x1="109.9" y1="856.5" x2="116.9" y2="856.5" stroke="#000" stroke-width="4"/>
<line x1="109.9" y1="939.8" x2="116.9" y2="939.8" stroke="#000" stroke-width="4"/>
<line x1="109.9" y1="1023.0" x2="116.9" y2="1023.0" stroke="#000" stroke-width="4"/>
<line x1="113.9" y1="648.4" x2="116.9" y2="648.4" stroke="#000" stroke-width="3.5"/>
<line x1="113.9" y1="731.6" x2="116.9" y2="731.6" stroke="#000" stroke-width="3.5"/>
<line x1="113.9" y1="814.9" x2="116.9" y2="814.9" stroke="#000" stroke-width="3.5"/>
<line x1="113.9" y1="898.1" x2="116.9" y2="898.1" stroke="#000" stroke-width="3.5"/>
<line x1="113.9" y1="981.4" x2="116.9" y2="981.4" stroke="#000" stroke-width="3.5"/>
<line x1="121.5" y1="1025.2" x2="121.5" y2="1031.7" stroke="#000" stroke-width="4"/>
<line x1="261.9" y1="1025.2" x2="261.9" y2="1031.7" stroke="#000" stroke-width="4"/>
<line x1="402.3" y1="1025.2" x2="402.3" y2="1031.7" stroke="#000" stroke-width="4"/>
<line x1="542.7" y1="1025.2" x2="542.7" y2="1031.7" stroke="#000" stroke-width="4"/>
<line x1="683.1" y1="1025.2" x2="683.1" y2="1031.7" stroke="#000" stroke-width="4"/>
<line x1="191.7" y1="1025.2" x2="191.7" y2="1028.2" stroke="#000" stroke-width="3.5"/>
<line x1="332.1" y1="1025.2" x2="332.1" y2="1028.2" stroke="#000" stroke-width="3.5"/>
<line x1="472.5" y1="1025.2" x2="472.5" y2="1028.2" stroke="#000" stroke-width="3.5"/>
<line x1="612.9" y1="1025.2" x2="612.9" y2="1028.2" stroke="#000" stroke-width="3.5"/>
<text x="102.5" y="616.0" font-family='"Liberation Serif", serif' font-size="31.5" font-weight="bold" text-anchor="end">5</text>
<text x="102.5" y="699.3" font-family='"Liberation Serif", serif' font-size="31.5" font-weight="bold" text-anchor="end">0</text>
<text x="102.5" y="782.5" font-family='"Liberation Serif", serif' font-size="31.5" font-weight="bold" text-anchor="end">-5</text>
<text x="102.5" y="865.8" font-family='"Liberation Serif", serif' font-size="31.5" font-weight="bold" text-anchor="end">-10</text>
<text x="102.5" y="949.0" font-family='"Liberation Serif", serif' font-size="31.5" font-weight="bold" text-anchor="end">-15</text>
<text x="102.5" y="1032.3" font-family='"Liberation Serif", serif' font-size="31.5" font-weight="bold" text-anchor="end">-20</text>
<text x="121.5" y="1061.5" font-family='"Liberation Serif", serif' font-size="31.5" font-weight="bold" text-anchor="middle">-1.0</text>
<text x="261.9" y="1061.5" font-family='"Liberation Serif", serif' font-size="31.5" font-weight="bold" text-anchor="middle">-0.5</text>
<text x="402.3" y="1061.5" font-family='"Liberation Serif", serif' font-size="31.5" font-weight="bold" text-anchor="middle">0.0</text>
<text x="542.7" y="1061.5" font-family='"Liberation Serif", serif' font-size="31.5" font-weight="bold" text-anchor="middle">0.5</text>
<text x="683.1" y="1061.5" font-family='"Liberation Serif", serif' font-size="31.5" font-weight="bold" text-anchor="middle">1.0</text>
<text x="373" y="1098.5" font-family='"Liberation Serif", serif' font-size="39" font-weight="bold" text-anchor="middle">Voltage(V)</text>
<text transform="translate(51.2,810.3) rotate(-90)" font-family='"Liberation Serif", serif' font-size="39" font-weight="bold" text-anchor="middle">J(mA.cm<tspan font-size="26.0" dy="-16.4">-2</tspan><tspan dy="16.4">)</tspan></text>
<text x="136.4" y="613.3" font-family='"Liberation Serif", serif' font-size="40" font-weight="bold" text-anchor="start">(c)</text>
<line x1="160.2" y1="963.1" x2="204.4" y2="963.1" stroke="#000000" stroke-width="9.4" stroke-linecap="round"/>
<line x1="294.09999999999997" y1="963.1" x2="339.2" y2="963.1" stroke="#ff0000" stroke-width="9.4" stroke-linecap="round"/>
<line x1="451.4" y1="963.1" x2="495.8" y2="963.1" stroke="#0000ff" stroke-width="9.4" stroke-linecap="round"/>
<line x1="160.2" y1="1007.1" x2="204.4" y2="1007.1" stroke="#ff8000" stroke-width="9.4" stroke-linecap="round"/>
<line x1="399.09999999999997" y1="1007.1" x2="443.7" y2="1007.1" stroke="#006400" stroke-width="9.4" stroke-linecap="round"/>
<text x="213.5" y="969.2" font-family='"Liberation Serif", serif' font-size="20.2" font-weight="bold">1) SnO<tspan dy="4.8">2</tspan><tspan dy="-4.8"></tspan></text>
<text x="348.5" y="969.2" font-family='"Liberation Serif", serif' font-size="20.2" font-weight="bold">2) SnO<tspan dy="4.8">2</tspan><tspan dy="-4.8">:Ir</tspan></text>
<text x="506" y="969.2" font-family='"Liberation Serif", serif' font-size="20.2" font-weight="bold">3) SnO<tspan dy="4.8">2</tspan><tspan dy="-4.8">:1.5% Ni,Ir</tspan></text>
<text x="213.5" y="1013.2" font-family='"Liberation Serif", serif' font-size="20.2" font-weight="bold">4) SnO<tspan dy="4.8">2</tspan><tspan dy="-4.8">:3.0% Ni, Ir</tspan></text>
<text x="453.5" y="1013.2" font-family='"Liberation Serif", serif' font-size="20.2" font-weight="bold">5) SnO<tspan dy="4.8">2</tspan><tspan dy="-4.8">:4.5% Ni, Ir</tspan></text>
<path d="M788.5,1000.5 C789.6,999.9 792.7,998.1 795.0,997.0 C797.3,995.9 799.2,994.9 802.5,994.0 C805.8,993.1 810.5,992.2 815.0,991.5 C819.5,990.8 823.3,990.6 829.5,990.0 C835.7,989.4 844.8,988.8 852.0,988.0 C859.2,987.2 862.2,986.2 873.0,985.5 C883.8,984.8 902.0,983.8 916.5,983.5 C931.0,983.2 945.5,983.6 960.0,983.5 C974.5,983.4 992.6,983.0 1003.5,983.0 C1014.4,983.0 1017.5,983.4 1025.3,983.5 C1033.0,983.6 1044.0,983.8 1050.0,983.5 C1056.0,983.2 1057.3,983.4 1061.0,982.0 C1064.7,980.6 1066.6,978.2 1072.0,975.0 C1077.4,971.8 1087.7,965.6 1093.5,963.0 C1099.3,960.4 1102.5,960.4 1107.0,959.5 C1111.5,958.6 1117.1,957.5 1120.3,957.5 C1123.5,957.5 1124.2,958.0 1126.0,959.5 C1127.8,961.0 1128.4,963.4 1131.0,966.3 C1133.6,969.2 1137.2,973.8 1141.7,977.0 C1146.2,980.2 1148.0,983.6 1157.9,985.6 C1167.9,987.6 1181.5,988.4 1201.4,988.8 C1221.3,989.1 1252.4,988.4 1277.5,987.7 C1302.6,987.0 1339.6,985.0 1352.0,984.5" fill="none" stroke="#0000ff" stroke-width="10.5" stroke-linecap="round" stroke-linejoin="round" clip-path="url(#cd)"/>
<path d="M788.2,998.0 C789.3,996.3 791.7,991.5 795.0,988.0 C798.3,984.5 802.0,981.3 807.8,977.0 C813.5,972.7 822.2,966.5 829.5,962.0 C836.8,957.5 844.0,953.8 851.3,950.0 C858.5,946.2 868.2,941.8 873.0,939.5 C877.8,937.2 876.4,937.9 880.0,936.5 C883.6,935.1 888.7,932.8 894.8,931.0 C900.9,929.2 909.2,926.8 916.5,925.5 C923.8,924.2 931.0,923.3 938.3,923.0 C945.5,922.7 952.8,923.0 960.0,923.8 C967.2,924.6 975.1,926.4 981.8,928.0 C988.5,929.6 992.8,931.4 1000.0,933.5 C1007.2,935.6 1017.5,938.3 1025.3,940.5 C1033.1,942.7 1040.5,945.0 1047.0,946.5 C1053.5,948.0 1060.0,949.0 1064.3,949.3 C1068.6,949.6 1070.4,949.3 1073.0,948.5 C1075.6,947.7 1077.3,947.2 1080.1,944.5 C1082.9,941.8 1086.9,936.0 1090.0,932.0 C1093.1,928.0 1095.9,924.3 1098.9,920.8 C1101.9,917.3 1105.3,913.0 1108.0,911.0 C1110.7,909.0 1112.9,908.6 1114.9,908.8 C1116.9,909.0 1118.6,910.1 1120.0,912.0 C1121.4,913.9 1121.7,915.0 1123.5,920.0 C1125.3,925.0 1128.0,935.8 1131.0,942.2 C1134.0,948.6 1136.8,954.3 1141.7,958.3 C1146.6,962.3 1150.7,964.1 1160.4,966.3 C1170.1,968.5 1186.7,970.1 1200.0,971.6 C1213.3,973.1 1227.1,974.6 1240.0,975.5 C1252.9,976.4 1258.8,976.7 1277.5,976.9 C1296.2,977.1 1339.6,976.9 1352.0,976.9" fill="none" stroke="#000000" stroke-width="10.5" stroke-linecap="round" stroke-linejoin="round" clip-path="url(#cd)"/>
<path d="M788.1,1012.0 C790.1,1011.0 796.9,1007.8 800.0,1006.0 C803.1,1004.2 804.3,1003.6 806.7,1001.0 C809.1,998.4 811.8,993.2 814.5,990.5 C817.2,987.8 819.7,986.2 823.2,984.5 C826.7,982.8 832.3,981.4 835.6,980.5 C838.9,979.6 840.2,979.6 843.0,979.2 C845.8,978.8 849.2,978.1 852.1,978.0 C855.0,977.9 857.4,977.5 860.4,978.5 C863.4,979.5 866.9,983.9 870.3,984.0 C873.7,984.1 877.1,980.0 881.0,979.0 C884.9,978.0 887.5,978.2 893.4,978.0 C899.3,977.8 905.4,977.6 916.5,977.5 C927.6,977.4 947.3,977.7 960.0,977.5 C972.7,977.3 983.6,977.6 992.7,976.5 C1001.8,975.4 1007.1,972.9 1014.4,971.0 C1021.6,969.1 1030.3,967.2 1036.2,965.0 C1042.1,962.8 1046.0,960.4 1050.0,958.0 C1054.0,955.6 1056.7,953.2 1060.0,950.5 C1063.3,947.8 1067.0,946.2 1069.7,942.0 C1072.4,937.8 1074.1,931.3 1076.0,925.0 C1077.9,918.7 1079.4,911.5 1081.0,904.0 C1082.6,896.5 1083.9,887.7 1085.5,880.0 C1087.1,872.3 1088.8,865.3 1090.5,858.0 C1092.2,850.7 1093.7,843.3 1095.5,836.0 C1097.3,828.7 1099.5,822.3 1101.6,814.3 C1103.7,806.3 1105.8,797.0 1108.2,788.0 C1110.7,779.0 1113.5,769.4 1116.3,760.3 C1119.1,751.2 1122.3,742.4 1125.3,733.5 C1128.3,724.6 1131.1,715.7 1134.5,706.8 C1137.9,697.9 1141.8,689.5 1145.7,680.0 C1149.6,670.5 1153.3,660.2 1157.9,650.0 C1162.5,639.8 1168.8,628.0 1173.1,619.0 C1177.4,610.0 1181.3,601.7 1184.0,596.0 C1186.7,590.3 1187.9,587.5 1189.5,585.0 C1191.1,582.5 1192.0,581.0 1193.5,581.0 C1195.0,581.0 1197.0,581.3 1198.5,585.0 C1200.0,588.7 1201.3,594.7 1202.5,603.0 C1203.7,611.3 1204.7,623.8 1205.5,635.0 C1206.3,646.2 1206.7,657.3 1207.5,670.0 C1208.3,682.7 1209.1,697.2 1210.1,711.4 C1211.1,725.5 1212.5,740.1 1213.4,754.9 C1214.4,769.7 1214.9,780.8 1215.8,800.0 C1216.7,819.2 1217.7,852.0 1218.8,870.0 C1219.9,888.0 1221.0,898.5 1222.5,908.0 C1224.0,917.5 1225.3,921.5 1228.0,927.0 C1230.7,932.5 1233.8,937.1 1238.4,941.0 C1243.0,944.9 1249.3,948.9 1255.8,950.5 C1262.3,952.1 1268.4,950.9 1277.5,950.8 C1286.6,950.7 1297.8,949.5 1310.2,949.7 C1322.6,949.9 1345.0,951.5 1352.0,951.9" fill="none" stroke="#ff8000" stroke-width="10.5" stroke-linecap="round" stroke-linejoin="round" clip-path="url(#cd)"/>
<path d="M788.2,976.0 C790.2,974.2 795.5,969.5 800.0,965.5 C804.5,961.5 808.8,957.6 815.0,952.0 C821.2,946.4 831.4,937.1 837.0,932.0 C842.6,926.9 844.7,925.1 848.7,921.5 C852.7,917.9 856.0,914.8 861.2,910.3 C866.4,905.8 873.5,899.3 880.0,894.5 C886.5,889.7 893.9,885.2 900.0,881.5 C906.1,877.8 909.7,875.2 916.5,872.0 C923.3,868.8 933.5,864.8 940.7,862.0 C948.0,859.2 953.1,857.1 960.0,855.0 C966.9,852.9 975.1,851.3 981.8,849.5 C988.5,847.7 993.4,845.5 1000.0,844.3 C1006.6,843.0 1015.6,842.0 1021.4,842.0 C1027.2,842.0 1030.2,843.3 1035.0,844.5 C1039.8,845.7 1045.1,847.2 1050.0,849.0 C1054.9,850.8 1059.0,852.8 1064.3,855.5 C1069.6,858.2 1076.4,862.0 1081.8,865.0 C1087.2,868.0 1091.7,871.1 1096.4,873.5 C1101.1,875.9 1106.0,878.2 1110.0,879.5 C1114.0,880.8 1117.3,881.6 1120.3,881.5 C1123.3,881.4 1125.3,880.9 1128.0,879.0 C1130.7,877.1 1132.2,874.6 1136.3,870.0 C1140.4,865.4 1147.8,855.9 1152.4,851.2 C1157.0,846.5 1160.9,843.8 1164.0,842.0 C1167.1,840.2 1169.0,840.0 1171.1,840.5 C1173.2,841.0 1175.0,842.4 1176.5,845.0 C1178.0,847.6 1178.5,848.5 1179.8,856.0 C1181.1,863.5 1182.8,880.7 1184.3,890.0 C1185.8,899.3 1187.2,906.7 1189.0,912.0 C1190.8,917.3 1191.1,918.6 1195.0,922.0 C1198.9,925.4 1205.8,928.9 1212.3,932.3 C1218.8,935.6 1226.8,939.0 1234.0,942.1 C1241.2,945.2 1248.5,948.8 1255.8,950.8 C1263.0,952.8 1268.4,952.5 1277.5,954.0 C1286.6,955.5 1297.8,957.9 1310.2,959.5 C1322.6,961.1 1345.0,963.1 1352.0,963.8" fill="none" stroke="#ff0000" stroke-width="10.5" stroke-linecap="round" stroke-linejoin="round" clip-path="url(#cd)"/>
<path d="M788.5,990.0 C789.3,988.7 789.5,988.1 793.4,982.0 C797.3,975.9 806.3,961.8 812.0,953.5 C817.7,945.2 820.9,940.8 827.8,932.1 C834.6,923.4 844.8,911.6 853.1,901.2 C861.4,890.9 870.8,878.6 877.8,870.0 C884.8,861.4 889.8,856.3 894.8,849.6 C899.8,842.9 903.4,834.4 907.8,830.0 C912.1,825.6 915.8,826.8 920.9,823.5 C926.0,820.2 931.8,815.1 938.3,810.5 C944.8,805.9 952.8,800.3 960.0,796.0 C967.2,791.7 974.5,787.8 981.8,784.5 C989.0,781.2 996.3,778.3 1003.5,776.0 C1010.7,773.7 1017.8,771.9 1025.0,770.5 C1032.2,769.1 1039.7,767.4 1047.0,767.5 C1054.3,767.6 1062.3,768.7 1068.8,771.0 C1075.3,773.3 1080.8,777.8 1086.0,781.5 C1091.2,785.2 1095.5,789.5 1100.0,793.5 C1104.5,797.5 1108.3,801.3 1113.0,805.5 C1117.7,809.7 1122.6,814.6 1128.3,818.5 C1134.0,822.4 1142.1,828.4 1147.0,829.0 C1151.9,829.6 1153.2,827.7 1157.7,822.0 C1162.2,816.3 1168.5,803.5 1173.8,795.0 C1179.1,786.5 1183.4,779.5 1189.8,771.0 C1196.2,762.5 1206.6,750.5 1212.3,744.0 C1218.0,737.5 1221.1,734.5 1224.0,732.0 C1226.9,729.5 1227.9,729.0 1229.7,729.0 C1231.5,729.0 1233.3,729.3 1235.0,732.0 C1236.7,734.7 1238.3,739.0 1240.0,745.0 C1241.7,751.0 1243.4,754.9 1244.9,768.0 C1246.5,781.1 1247.5,807.0 1249.3,823.5 C1251.1,840.0 1252.9,854.0 1255.8,867.0 C1258.7,880.0 1261.3,892.4 1266.7,901.8 C1272.1,911.2 1281.2,918.1 1288.4,923.6 C1295.7,929.1 1303.0,931.8 1310.2,934.5 C1317.5,937.2 1324.9,938.1 1331.9,939.9 C1338.9,941.7 1348.7,944.4 1352.0,945.3" fill="none" stroke="#006400" stroke-width="10.5" stroke-linecap="round" stroke-linejoin="round" clip-path="url(#cd)"/>
<rect x="788.7" y="572.7" width="565.3" height="448.19999999999993" fill="none" stroke="#000" stroke-width="4.3"/>
<line x1="779.5" y1="993.3" x2="786.5" y2="993.3" stroke="#000" stroke-width="4"/>
<line x1="779.5" y1="885.4" x2="786.5" y2="885.4" stroke="#000" stroke-width="4"/>
<line x1="779.5" y1="777.6" x2="786.5" y2="777.6" stroke="#000" stroke-width="4"/>
<line x1="779.5" y1="669.7" x2="786.5" y2="669.7" stroke="#000" stroke-width="4"/>
<line x1="783.5" y1="939.4" x2="786.5" y2="939.4" stroke="#000" stroke-width="3.5"/>
<line x1="783.5" y1="831.5" x2="786.5" y2="831.5" stroke="#000" stroke-width="3.5"/>
<line x1="783.5" y1="723.6" x2="786.5" y2="723.6" stroke="#000" stroke-width="3.5"/>
<line x1="783.5" y1="615.8" x2="786.5" y2="615.8" stroke="#000" stroke-width="3.5"/>
<line x1="867.8" y1="1023" x2="867.8" y2="1030" stroke="#000" stroke-width="4"/>
<line x1="1028.4" y1="1023" x2="1028.4" y2="1030" stroke="#000" stroke-width="4"/>
<line x1="1189.0" y1="1023" x2="1189.0" y2="1030" stroke="#000" stroke-width="4"/>
<line x1="1349.6" y1="1023" x2="1349.6" y2="1030" stroke="#000" stroke-width="4"/>
<line x1="948.1" y1="1023" x2="948.1" y2="1026" stroke="#000" stroke-width="3.5"/>
<line x1="1108.7" y1="1023" x2="1108.7" y2="1026" stroke="#000" stroke-width="3.5"/>
<line x1="1269.3" y1="1023" x2="1269.3" y2="1026" stroke="#000" stroke-width="3.5"/>
<text x="773.5" y="1002.6" font-family='"Liberation Serif", serif' font-size="31.5" font-weight="bold" text-anchor="end">0</text>
<text x="773.5" y="894.7" font-family='"Liberation Serif", serif' font-size="31.5" font-weight="bold" text-anchor="end">2</text>
<text x="773.5" y="786.9" font-family='"Liberation Serif", serif' font-size="31.5" font-weight="bold" text-anchor="end">4</text>
<text x="773.5" y="679.0" font-family='"Liberation Serif", serif' font-size="31.5" font-weight="bold" text-anchor="end">6</text>
<text x="867.8" y="1058.6" font-family='"Liberation Serif", serif' font-size="31.5" font-weight="bold" text-anchor="middle">-0.2</text>
<text x="1028.4" y="1058.6" font-family='"Liberation Serif", serif' font-size="31.5" font-weight="bold" text-anchor="middle">0.0</text>
<text x="1189.0" y="1058.6" font-family='"Liberation Serif", serif' font-size="31.5" font-weight="bold" text-anchor="middle">0.2</text>
<text x="1349.6" y="1058.6" font-family='"Liberation Serif", serif' font-size="31.5" font-weight="bold" text-anchor="middle">0.4</text>
<text x="1071.5" y="1099.5" font-family='"Liberation Serif", serif' font-size="37.5" font-weight="bold" text-anchor="middle">Voltage(V)</text>
<text transform="translate(741.1,807.8) rotate(-90)" font-family='"Liberation Serif", serif' font-size="38" font-weight="bold" text-anchor="middle">J(mA.cm<tspan font-size="25.0" dy="-16.5">-2</tspan><tspan dy="16.5">)</tspan></text>
<text x="794.5" y="614" font-family='"Liberation Serif", serif' font-size="40" font-weight="bold" text-anchor="start">(d)</text>
<rect x="1032.7" y="732.5" width="3" height="16.7" rx="0.6" fill="#000"/>
<rect x="1039.4" y="732.5" width="3" height="16.7" rx="0.6" fill="#000"/>
<rect x="1230.2" y="703" width="3" height="16.4" rx="0.6" fill="#000"/>
<line x1="688.7" y1="518.7" x2="764" y2="558.3" stroke="#4472c4" stroke-width="4"/>
<polygon points="773.1,563.1 764.9,552.2 759.2,563.1" fill="#4472c4"/>
</svg></body></html>
